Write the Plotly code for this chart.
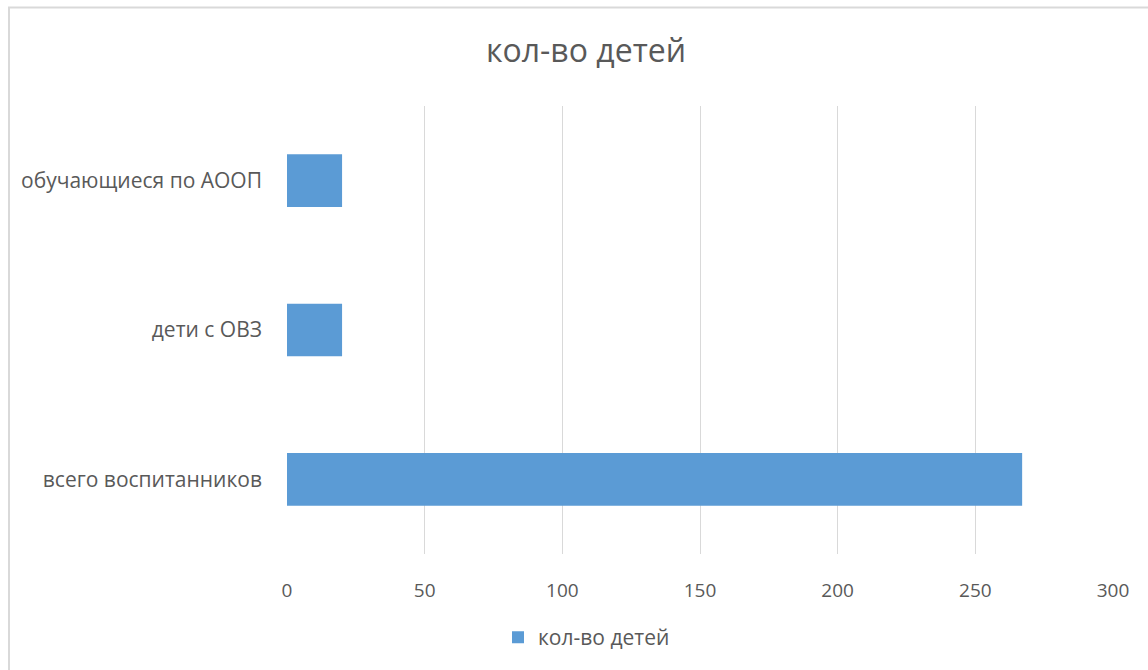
import plotly.graph_objects as go

categories = ["всего воспитанников", "дети с ОВЗ", "обучающиеся по АООП"]
values = [267, 20, 20]
series_name = "кол-во детей"
title_text = "кол-во детей"
x_ticks = [0, 50, 100, 150, 200, 250, 300]

W, H = 1148, 670
L, R, T, B = 287, 35, 106, 114
pw, ph = W - L - R, H - T - B

def px_x(p):
    return (p - L) / pw

def px_y(p):
    return (H - B - p) / ph

fig = go.Figure()
fig.add_trace(go.Bar(
    y=categories, x=values, orientation="h", name=series_name,
    marker=dict(color="#5b9bd5", line=dict(width=0)),
    showlegend=True,
))

font_family = "Open Sans, Noto Sans, sans-serif"
fig.update_layout(
    width=W, height=H,
    margin=dict(l=L, r=R, t=T, b=B),
    paper_bgcolor="white", plot_bgcolor="white",
    bargap=0.647,
    font=dict(family=font_family, color="#595959", size=15),
    title=dict(text=title_text, x=px_x(586), xref="paper", xanchor="center",
               y=1 - 51 / H, yanchor="middle", yref="container",
               font=dict(size=32, color="#595959", family=font_family)),
    xaxis=dict(range=[0, 300], tickvals=x_ticks, showgrid=True, gridcolor="#d9d9d9",
               gridwidth=1, zeroline=False, showline=False, ticks="",
               ticklabelstandoff=23, tickfont=dict(size=19, color="#595959"),
               fixedrange=True),
    yaxis=dict(showgrid=False, zeroline=False, showline=False, ticks="",
               ticklabelstandoff=24, tickfont=dict(size=21, color="#595959"),
               fixedrange=True),
    legend=dict(orientation="h", x=px_x(498), xanchor="left", y=px_y(640), yanchor="middle",
                font=dict(size=21, color="#595959"), itemwidth=30),
    shapes=[dict(type="rect", xref="paper", yref="paper",
                 x0=px_x(9), x1=px_x(1152), y0=px_y(674), y1=px_y(7),
                 line=dict(color="#d9d9d9", width=2), fillcolor="rgba(0,0,0,0)", layer="below")],
)

fig.write_html("out.html", config={"displayModeBar": False},
               post_script="document.body.style.margin='0';document.body.style.overflow='hidden';")
